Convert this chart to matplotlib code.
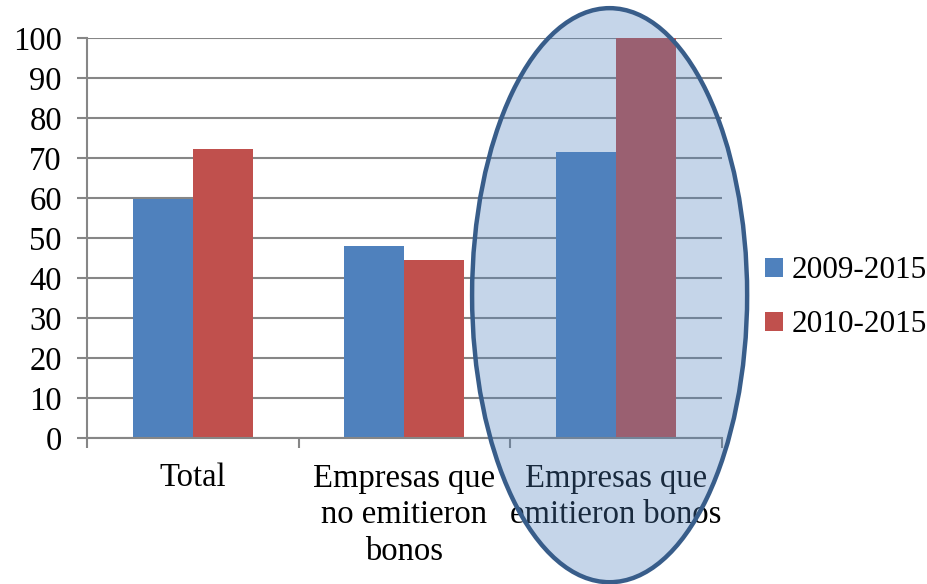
import matplotlib.pyplot as plt
import numpy as np
from matplotlib.patches import Ellipse

plt.rcParams['font.family'] = ['Liberation Serif', 'DejaVu Serif']

categorias = ["Total", "Empresas que\nno emitieron\nbonos", "Empresas que\nemitieron bonos"]
serie_2009 = [59.8, 48.1, 71.4]
serie_2010 = [72.2, 44.6, 100.0]
nombres = ["2009-2015", "2010-2015"]

azul = "#4F81BD"
rojo = "#C0504D"
gris = "#868686"

fig = plt.figure(figsize=(9.28, 5.84), dpi=100)
ax = fig.add_axes([0.09375, 0.25, 0.684, 0.685])

x = np.arange(len(categorias))
ancho = 0.283
b1 = ax.bar(x - ancho / 2, serie_2009, ancho, color=azul, zorder=2, label=nombres[0])
b2 = ax.bar(x + ancho / 2, serie_2010, ancho, color=rojo, zorder=2, label=nombres[1])

ax.set_xlim(-0.5, len(categorias) - 0.5)
ax.set_ylim(0, 100)
ax.set_yticks(range(0, 101, 10))
ax.yaxis.grid(True, color=gris, linewidth=1.5, zorder=0)
ax.set_axisbelow(True)

for lado in ["top", "right"]:
    ax.spines[lado].set_visible(False)
for lado in ["left", "bottom"]:
    ax.spines[lado].set_color(gris)
    ax.spines[lado].set_linewidth(1.5)

ax.tick_params(axis="y", length=7, width=1.5, color=gris, labelsize=23.5, pad=11)
ax.set_xticks(np.arange(-0.5, len(categorias), 1.0))
ax.set_xticklabels([])
ax.tick_params(axis="x", length=7, width=1.5, color=gris)
ax.set_xticks(x, minor=True)
ax.set_xticklabels(categorias, minor=True, fontsize=23.5, linespacing=1.27)
ax.tick_params(axis="x", which="minor", length=0, pad=18)

leg = fig.legend(handles=[b1, b2], labels=nombres, loc="center left",
                 bbox_to_anchor=(0.808, 0.49), frameon=False, fontsize=22.5,
                 handlelength=0.55, handleheight=0.55, handletextpad=0.3,
                 labelspacing=0.8, borderpad=0)

# elipse resaltando las empresas que emitieron bonos
elipse = Ellipse((1.97, 35.7), width=1.3, height=143.5,
                 facecolor=(79 / 255, 129 / 255, 189 / 255, 0.33),
                 edgecolor="#385D8A", linewidth=3.2, zorder=10, clip_on=False)
ax.add_patch(elipse)

fig.savefig("out.png", dpi=100)
